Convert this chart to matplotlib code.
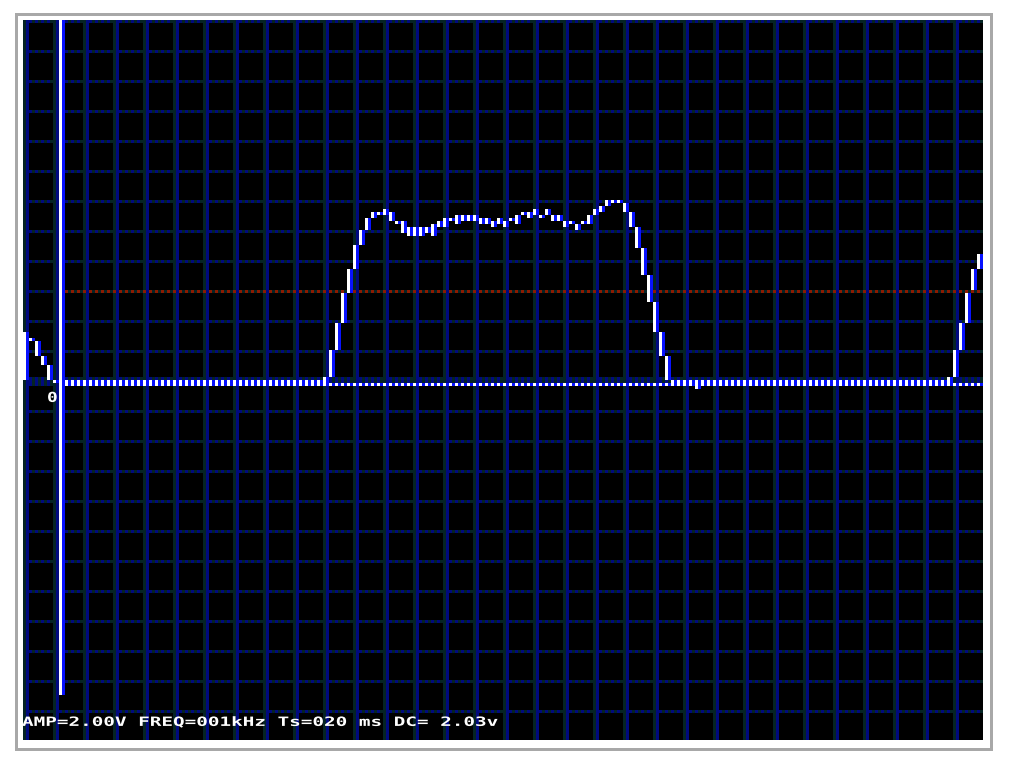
import numpy as np
import matplotlib
matplotlib.use('Agg')
import matplotlib.pyplot as plt
from matplotlib.patches import Rectangle
from matplotlib.patheffects import AbstractPathEffect
from matplotlib.transforms import Affine2D


"""
Oscilloscope screen (320x240 display, drawn 3x)
x: display column, y: display pixels above the zero line
"""

# waveform, one entry per sample (each sample = 2 columns, white + blue)
# top / bottom level that the scope drew for the sample
trace_hi = ([16, 14, 13, 8, 5, 0] + [0] * 44 +
            [1, 10, 19, 29, 37, 45, 50, 54, 56, 56,
             57, 56, 53, 53, 51, 51, 51, 51, 52, 53,
             54, 54, 55, 55, 55, 55, 54, 54, 53, 54,
             53, 54, 55, 56, 56, 57, 55, 57, 55, 55,
             53, 53, 52, 53, 55, 57, 58, 60, 60, 60,
             59, 56, 51, 44, 35, 26, 16, 8] +
            [0] * 4 + [0] + [0] * 41 +
            [1, 10, 19, 29, 37, 42])
trace_lo = ([1, 14, 9, 6, 1, 0] + [0] * 44 +
            [0, 2, 11, 20, 30, 38, 46, 51, 55, 56,
             56, 54, 53, 50, 49, 49, 49, 50, 49, 52,
             52, 54, 53, 54, 54, 54, 53, 53, 52, 53,
             52, 54, 53, 56, 55, 56, 55, 56, 54, 54,
             52, 53, 51, 53, 53, 56, 57, 59, 60, 60,
             57, 52, 45, 36, 27, 17, 9, 1] +
            [0] * 4 + [-2] + [0] * 41 +
            [0, 2, 11, 20, 31, 38])

dc_level = 30          # red dotted line
ref_level = -1         # white/blue dotted zero marker
cursor_sample = 6      # trigger cursor
cursor_span = (-104, 120)

status_text = "AMP=2.00V FREQ=001kHz Ts=020 ms DC= 2.03v"
zero_label = "0"

BLACK = '#000000'
TEAL = '#052424'
NAVY = '#000a7e'
BLUE = '#0812ff'
RED = '#8c1a00'
GRAY = '#a8a8a8'

W, H = 1011, 757
N_COLS, N_ROWS = 320, 240


class StretchX(AbstractPathEffect):
    # the scope font is a lot wider than DejaVu Sans Mono
    def __init__(self, sx):
        super().__init__()
        self.sx = sx

    def draw_path(self, renderer, gc, tpath, affine, rgbFace=None):
        renderer.draw_path(gc, tpath, Affine2D().scale(self.sx, 1) + affine, rgbFace)


fig = plt.figure(figsize=(W / 100, H / 100), dpi=100)
fig.patch.set_facecolor('white')
ax = fig.add_axes([23 / W, 17 / H, 960 / W, 720 / H])
ax.set_facecolor(BLACK)
ax.set_xlim(0, N_COLS)
ax.set_ylim(-119.5, 120.5)
ax.set_xticks([])
ax.set_yticks([])
for s in ax.spines.values():
    s.set_visible(False)

# 外枠
fig.add_artist(Rectangle((15.5 / W, 8.5 / H), 975 / W, 735 / H, transform=fig.transFigure,
                         fill=False, edgecolor=GRAY, linewidth=3 * 0.72))

# grid: horizontal dashed rows every 10 px, zero row thicker
even = np.arange(0, N_COLS, 2)
odd = even + 1
for lev in range(120, -120, -10):
    half = 1.5 if lev == 0 else 0.5
    ax.broken_barh([(c, 1) for c in odd], (lev - half, 2 * half), facecolors=TEAL,
                   antialiased=False, zorder=1)
    ax.broken_barh([(c, 1) for c in even], (lev - half, 2 * half), facecolors=NAVY,
                   antialiased=False, zorder=1)

# grid: vertical lines every 10 columns (teal + navy)
vcols = np.arange(0, N_COLS, 10)
ax.bar(vcols, N_ROWS, bottom=-119.5, width=1, align='edge', color=TEAL,
       linewidth=0, antialiased=False, zorder=1.2)
ax.bar(vcols + 1, N_ROWS, bottom=-119.5, width=1, align='edge', color=NAVY,
       linewidth=0, antialiased=False, zorder=1.2)

# red DC line and zero marker, right of the cursor
start = 2 * cursor_sample + 2
dot_even = np.arange(start, N_COLS, 2)
ax.bar(dot_even, 1, bottom=dc_level - 0.5, width=1, align='edge', color=RED,
       linewidth=0, antialiased=False, zorder=2)
ax.bar(dot_even, 1, bottom=ref_level - 0.5, width=1, align='edge', color='white',
       linewidth=0, antialiased=False, zorder=2)
ax.bar(dot_even + 1, 1, bottom=ref_level - 0.5, width=1, align='edge', color=BLUE,
       linewidth=0, antialiased=False, zorder=2)

# waveform
hi = np.array(trace_hi)
lo = np.array(trace_lo)
k = np.arange(len(hi))
ax.bar(2 * k, hi - lo + 1, bottom=lo - 0.5, width=1, align='edge', color='white',
       linewidth=0, antialiased=False, zorder=3)
ax.bar(2 * k + 1, hi - lo + 1, bottom=lo - 0.5, width=1, align='edge', color=BLUE,
       linewidth=0, antialiased=False, zorder=3)

# trigger cursor
c_lo, c_hi = cursor_span
ax.bar([2 * cursor_sample], c_hi - c_lo + 1, bottom=c_lo - 0.5, width=1, align='edge',
       color='white', linewidth=0, antialiased=False, zorder=4)
ax.bar([2 * cursor_sample + 1], c_hi - c_lo + 1, bottom=c_lo - 0.5, width=1, align='edge',
       color=BLUE, linewidth=0, antialiased=False, zorder=4)

# labels
ax.text(8, -6.8, zero_label, color='white', fontsize=9.9, fontweight='bold',
        family='DejaVu Sans Mono', ha='left', va='baseline', zorder=5,
        path_effects=[StretchX(1.3)])
ax.text(-0.33, -114.8, status_text, color='white', fontsize=9.2, fontweight='bold',
        family='DejaVu Sans Mono', ha='left', va='baseline', zorder=5,
        path_effects=[StretchX(1.51)])

fig.savefig('out.png', dpi=100, facecolor='white')
